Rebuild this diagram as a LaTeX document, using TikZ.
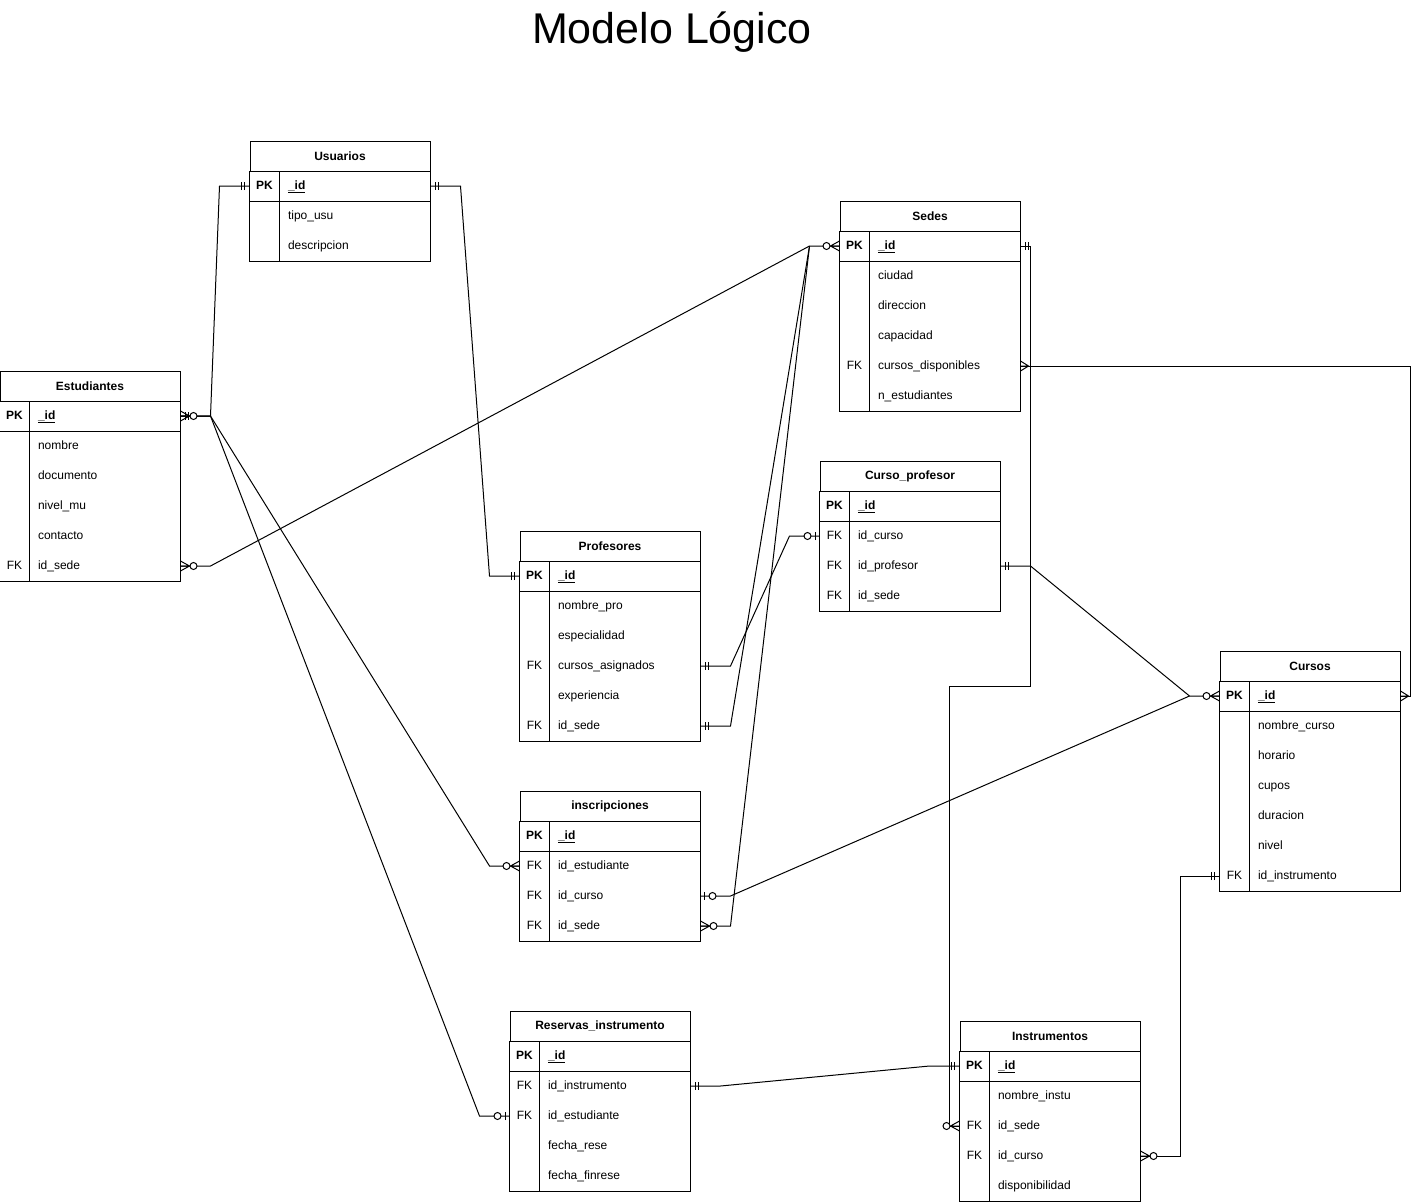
\documentclass[tikz,border=0pt]{standalone}
\usepackage{fontspec}
\setmainfont{Liberation Sans}
\begin{document}
\begin{tikzpicture}[x=1pt, y=-1pt, line width=1pt,
    font=\fontsize{12}{14}\selectfont,
    tabtitle/.style={draw, minimum width=180pt, minimum height=30pt, inner sep=0pt, font=\fontsize{12}{14}\selectfont\bfseries},
    rowbox/.style={inner xsep=38pt, inner ysep=0pt, text width=104pt, align=left, minimum height=30pt, text height=9pt, text depth=3pt},
    keytxt/.style={inner sep=0pt, text height=9pt, text depth=3pt},
    mandone/.pic={\draw (5,-4) -- (5,4) (8,-4) -- (8,4);},
    zeroone/.pic={\draw (4,-4) -- (4,4); \draw[fill=white] (12,0) circle (3.5);},
    zeromany/.pic={\draw (0,-5) -- (9,0) -- (0,5) (0,0) -- (9,0); \draw[fill=white] (13,0) circle (3.5);},
    crowmany/.pic={\draw (0,-5) -- (8,0) -- (0,5) (0,0) -- (8,0);}]
    \useasboundingbox (0,0) rectangle (1421,1202);
    \node[font=\fontsize{43}{50}\selectfont, anchor=base] (titulo) at (672,43) {Modelo Lógico};

    % Usuarios
    \node[tabtitle] (usu) at (340,156) {Usuarios};
    \foreach \k/\f [count=\i from 0] in {\textbf{PK}/\textbf{\underline{\_id}}, /tipo\_usu, /descripcion} {
        \node[rowbox] (usu\i) at (340,186+30*\i) {\f};
        \node[keytxt] at ([xshift=15pt]usu\i.west) {\k};
    }
    \draw (usu.south west) rectangle (usu2.south east) ([xshift=30pt]usu.south west) -- ([xshift=30pt]usu2.south west) (usu0.south west) -- (usu0.south east);

    % Estudiantes
    \node[tabtitle] (est) at (90,386) {Estudiantes};
    \foreach \k/\f [count=\i from 0] in {\textbf{PK}/\textbf{\underline{\_id}}, /nombre, /documento, /nivel\_mu, /contacto, FK/id\_sede} {
        \node[rowbox] (est\i) at (90,416+30*\i) {\f};
        \node[keytxt] at ([xshift=15pt]est\i.west) {\k};
    }
    \draw (est.south west) rectangle (est5.south east) ([xshift=30pt]est.south west) -- ([xshift=30pt]est5.south west) (est0.south west) -- (est0.south east);

    % Sedes
    \node[tabtitle] (sed) at (930,216) {Sedes};
    \foreach \k/\f [count=\i from 0] in {\textbf{PK}/\textbf{\underline{\_id}}, /ciudad, /direccion, /capacidad, FK/cursos\_disponibles, /n\_estudiantes} {
        \node[rowbox] (sed\i) at (930,246+30*\i) {\f};
        \node[keytxt] at ([xshift=15pt]sed\i.west) {\k};
    }
    \draw (sed.south west) rectangle (sed5.south east) ([xshift=30pt]sed.south west) -- ([xshift=30pt]sed5.south west) (sed0.south west) -- (sed0.south east);

    % Curso_profesor
    \node[tabtitle] (cpr) at (910,476) {Curso\_profesor};
    \foreach \k/\f [count=\i from 0] in {\textbf{PK}/\textbf{\underline{\_id}}, FK/id\_curso, FK/id\_profesor, FK/id\_sede} {
        \node[rowbox] (cpr\i) at (910,506+30*\i) {\f};
        \node[keytxt] at ([xshift=15pt]cpr\i.west) {\k};
    }
    \draw (cpr.south west) rectangle (cpr3.south east) ([xshift=30pt]cpr.south west) -- ([xshift=30pt]cpr3.south west) (cpr0.south west) -- (cpr0.south east);

    % Profesores
    \node[tabtitle] (pro) at (610,546) {Profesores};
    \foreach \k/\f [count=\i from 0] in {\textbf{PK}/\textbf{\underline{\_id}}, /nombre\_pro, /especialidad, FK/cursos\_asignados, /experiencia, FK/id\_sede} {
        \node[rowbox] (pro\i) at (610,576+30*\i) {\f};
        \node[keytxt] at ([xshift=15pt]pro\i.west) {\k};
    }
    \draw (pro.south west) rectangle (pro5.south east) ([xshift=30pt]pro.south west) -- ([xshift=30pt]pro5.south west) (pro0.south west) -- (pro0.south east);

    % inscripciones
    \node[tabtitle] (isc) at (610,806) {inscripciones};
    \foreach \k/\f [count=\i from 0] in {\textbf{PK}/\textbf{\underline{\_id}}, FK/id\_estudiante, FK/id\_curso, FK/id\_sede} {
        \node[rowbox] (isc\i) at (610,836+30*\i) {\f};
        \node[keytxt] at ([xshift=15pt]isc\i.west) {\k};
    }
    \draw (isc.south west) rectangle (isc3.south east) ([xshift=30pt]isc.south west) -- ([xshift=30pt]isc3.south west) (isc0.south west) -- (isc0.south east);

    % Cursos
    \node[tabtitle] (cur) at (1310,666) {Cursos};
    \foreach \k/\f [count=\i from 0] in {\textbf{PK}/\textbf{\underline{\_id}}, /nombre\_curso, /horario, /cupos, /duracion, /nivel, FK/id\_instrumento} {
        \node[rowbox] (cur\i) at (1310,696+30*\i) {\f};
        \node[keytxt] at ([xshift=15pt]cur\i.west) {\k};
    }
    \draw (cur.south west) rectangle (cur6.south east) ([xshift=30pt]cur.south west) -- ([xshift=30pt]cur6.south west) (cur0.south west) -- (cur0.south east);

    % Reservas_instrumento
    \node[tabtitle] (res) at (600,1026) {Reservas\_instrumento};
    \foreach \k/\f [count=\i from 0] in {\textbf{PK}/\textbf{\underline{\_id}}, FK/id\_instrumento, FK/id\_estudiante, /fecha\_rese, /fecha\_finrese} {
        \node[rowbox] (res\i) at (600,1056+30*\i) {\f};
        \node[keytxt] at ([xshift=15pt]res\i.west) {\k};
    }
    \draw (res.south west) rectangle (res4.south east) ([xshift=30pt]res.south west) -- ([xshift=30pt]res4.south west) (res0.south west) -- (res0.south east);

    % Instrumentos
    \node[tabtitle] (itm) at (1050,1036) {Instrumentos};
    \foreach \k/\f [count=\i from 0] in {\textbf{PK}/\textbf{\underline{\_id}}, /nombre\_instu, FK/id\_sede, FK/id\_curso, /disponibilidad} {
        \node[rowbox] (itm\i) at (1050,1066+30*\i) {\f};
        \node[keytxt] at ([xshift=15pt]itm\i.west) {\k};
    }
    \draw (itm.south west) rectangle (itm4.south east) ([xshift=30pt]itm.south west) -- ([xshift=30pt]itm4.south west) (itm0.south west) -- (itm0.south east);

    % relaciones
    \draw (usu0.west) -- ++(-30,0) -- ([xshift=30pt]est0.east) -- (est0.east);
    \draw (usu0.east) -- ++(30,0) -- ([xshift=-30pt]pro0.west) -- (pro0.west);
    \draw (est5.east) -- ++(30,0) -- ([xshift=-30pt]sed0.west) -- (sed0.west);
    \draw (pro3.east) -- ++(30,0) -- ([xshift=-30pt]cpr1.west) -- (cpr1.west);
    \draw (pro5.east) -- ++(30,0) -- ([xshift=-30pt]sed0.west);
    \draw (isc3.east) -- ++(30,0) -- ([xshift=-30pt]sed0.west);
    \draw (isc2.east) -- ++(30,0) -- ([xshift=-30pt]cur0.west) -- (cur0.west);
    \draw (cpr2.east) -- ++(30,0) -- ([xshift=-30pt]cur0.west);
    \draw (sed0.east) -- ++(10,0) -- ++(0,440) -| ([xshift=-10pt]itm2.west) -- (itm2.west);
    \draw (sed4.east) -| ([xshift=10pt]cur0.east) -- (cur0.east);
    \draw (res1.east) -- ++(30,0) -- ([xshift=-30pt]itm0.west) -- (itm0.west);
    \draw (est0.east) -- ++(30,0) -- ([xshift=-30pt]isc1.west) -- (isc1.west);
    \draw (est0.east) -- ++(30,0) -- ([xshift=-30pt]res2.west) -- (res2.west);
    \draw (itm3.east) -- ++(40,0) |- (cur6.west);

    % cardinalidades
    \path (usu0.west) pic[rotate=180]{mandone} (usu0.east) pic{mandone}
        (est0.east) pic{zeromany} (est0.east) pic{mandone}
        (pro0.west) pic[rotate=180]{mandone}
        (est5.east) pic{zeromany} (sed0.west) pic[rotate=180]{zeromany}
        (pro3.east) pic{mandone} (cpr1.west) pic[rotate=180]{zeroone}
        (pro5.east) pic{mandone} (isc3.east) pic{zeromany}
        (isc2.east) pic{zeroone} (cur0.west) pic[rotate=180]{zeromany}
        (cpr2.east) pic{mandone}
        (sed0.east) pic{mandone} (itm2.west) pic[rotate=180]{zeromany}
        (sed4.east) pic{crowmany} (cur0.east) pic{crowmany}
        (res1.east) pic{mandone} (itm0.west) pic[rotate=180]{mandone}
        (isc1.west) pic[rotate=180]{zeromany}
        (res2.west) pic[rotate=180]{zeroone}
        (itm3.east) pic{zeromany} (cur6.west) pic[rotate=180]{mandone};
\end{tikzpicture}
\end{document}
